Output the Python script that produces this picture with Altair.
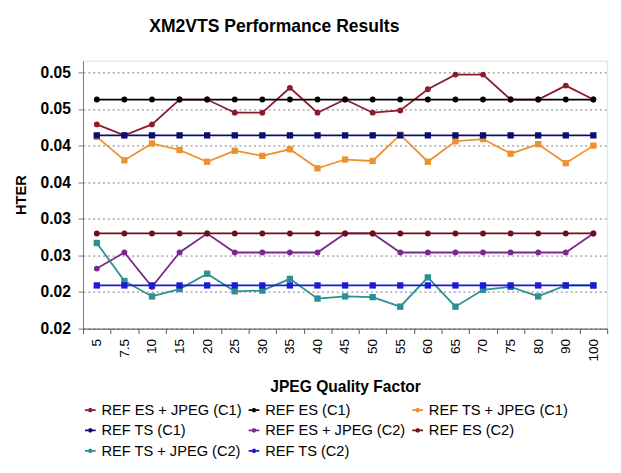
import altair as alt
import pandas as pd

quality = ["5", "7.5", "10", "15", "20", "25", "30", "35", "40", "45",
           "50", "55", "60", "65", "70", "75", "80", "90", "100"]

series_names = ["REF ES + JPEG (C1)", "REF ES (C1)", "REF TS + JPEG (C1)",
                "REF TS (C1)", "REF ES + JPEG (C2)", "REF ES (C2)",
                "REF TS + JPEG (C2)", "REF TS (C2)"]

es_jpeg_c1 = [0.0429, 0.0414, 0.0429, 0.0463, 0.0463, 0.0445, 0.0445, 0.0479, 0.0445, 0.0463,
              0.0445, 0.0448, 0.0477, 0.0497, 0.0497, 0.0463, 0.0463, 0.0482, 0.0463]
es_c1 = [0.0463, 0.0463, 0.0463, 0.0463, 0.0463, 0.0463, 0.0463, 0.0463, 0.0463, 0.0463,
         0.0463, 0.0463, 0.0463, 0.0463, 0.0463, 0.0463, 0.0463, 0.0463, 0.0463]
ts_jpeg_c1 = [0.0412, 0.0380, 0.0403, 0.0394, 0.0378, 0.0393, 0.0386, 0.0395, 0.0369, 0.0381,
              0.0379, 0.0415, 0.0378, 0.0406, 0.0409, 0.0389, 0.0402, 0.0376, 0.0400]
ts_c1 = [0.0414, 0.0414, 0.0414, 0.0414, 0.0414, 0.0414, 0.0414, 0.0414, 0.0414, 0.0414,
         0.0414, 0.0414, 0.0414, 0.0414, 0.0414, 0.0414, 0.0414, 0.0414, 0.0414]
es_jpeg_c2 = [0.0232, 0.0254, 0.0207, 0.0254, 0.0280, 0.0254, 0.0254, 0.0254, 0.0254, 0.0280,
              0.0280, 0.0254, 0.0254, 0.0254, 0.0254, 0.0254, 0.0254, 0.0254, 0.0280]
es_c2 = [0.0280, 0.0280, 0.0280, 0.0280, 0.0280, 0.0280, 0.0280, 0.0280, 0.0280, 0.0280,
         0.0280, 0.0280, 0.0280, 0.0280, 0.0280, 0.0280, 0.0280, 0.0280, 0.0280]
ts_jpeg_c2 = [0.0267, 0.0215, 0.0194, 0.0204, 0.0225, 0.0201, 0.0202, 0.0218, 0.0191, 0.0194,
              0.0193, 0.0180, 0.0220, 0.0180, 0.0203, 0.0207, 0.0194, 0.0209, 0.0209]
ts_c2 = [0.0209, 0.0209, 0.0209, 0.0209, 0.0209, 0.0209, 0.0209, 0.0209, 0.0209, 0.0209,
         0.0209, 0.0209, 0.0209, 0.0209, 0.0209, 0.0209, 0.0209, 0.0209, 0.0209]

series_values = [es_jpeg_c1, es_c1, ts_jpeg_c1, ts_c1, es_jpeg_c2, es_c2, ts_jpeg_c2, ts_c2]

colors = ["#8B1C2C", "#000000", "#EE9030", "#0C0C72",
          "#7A2A8A", "#6E0F1A", "#2A9090", "#1A1AD8"]
markers = ["circle", "circle", "square", "square", "circle", "circle", "square", "square"]

y_tick_values = [0.015, 0.02, 0.025, 0.03, 0.035, 0.04, 0.045, 0.05]
y_tick_labels = ["0.02", "0.02", "0.03", "0.03", "0.04", "0.04", "0.05", "0.05"]

rows = []
for name, vals, mk in zip(series_names, series_values, markers):
    for q, v in zip(quality, vals):
        rows.append({"quality": q, "hter": v, "series": name, "marker": mk})
df = pd.DataFrame(rows)

label_expr = ""
for v, lab in zip(y_tick_values, y_tick_labels):
    label_expr += f"abs(datum.value - {v}) < 1e-6 ? '{lab}' : "
label_expr += "''"

# legend symbol: short line with a dot marker in the middle
circ = ("M-1,0L1,0M0.26,0L0.18,0.18L0,0.26L-0.18,0.18L-0.26,0"
        "L-0.18,-0.18L0,-0.26L0.18,-0.18Z")

FONT = "Liberation Sans"

x_enc = alt.X("quality:N", sort=quality,
              scale=alt.Scale(type="band", paddingInner=0, paddingOuter=0),
              axis=alt.Axis(title="JPEG Quality Factor", labelAngle=270, tickBand="extent",
                            labelFontSize=14, labelFont=FONT, labelColor="#000",
                            titleFontSize=16, titleFont=FONT, titleFontWeight="bold",
                            titleColor="#000", titlePadding=18,
                            domainColor="#555", tickColor="#555", tickSize=5,
                            labelPadding=5, grid=False))
y_axis = alt.Axis(title="HTER", values=y_tick_values, labelExpr=label_expr,
                  labelFontSize=16, labelFont=FONT, labelFontWeight="bold",
                  labelColor="#000", titleFontSize=15, titleFont=FONT,
                  titleFontWeight="bold", titleColor="#000", titlePadding=12,
                  domainColor="#777", tickColor="#777", tickSize=5, labelPadding=8,
                  gridColor="#777", gridDash=[2, 3], gridWidth=1)
y_scale = alt.Scale(domain=[0.015, 0.0516], nice=False, zero=False)
y_enc = alt.Y("hter:Q", scale=y_scale, axis=y_axis)

color_scale = alt.Scale(domain=series_names, range=colors)
col_line = alt.Color("series:N", sort=series_names, scale=color_scale,
                     legend=alt.Legend(title=None, orient="bottom", direction="horizontal",
                                       columns=3, symbolType=circ, symbolSize=121,
                                       labelFontSize=15, labelFont=FONT, labelColor="#000",
                                       rowPadding=5, columnPadding=3, labelOffset=4,
                                       symbolStrokeWidth=1.8, offset=8))
col_none = alt.Color("series:N", sort=series_names, scale=color_scale, legend=None)

lines = alt.Chart(df).mark_line(strokeWidth=1.8).encode(x=x_enc, y=y_enc, color=col_line)
pts_circle = alt.Chart(df).transform_filter("datum.marker == 'circle'").mark_point(
    filled=True, opacity=1, size=36, shape="circle").encode(x=x_enc, y=y_enc, color=col_none)
pts_square = alt.Chart(df).transform_filter("datum.marker == 'square'").mark_point(
    filled=True, opacity=1, size=42, shape="square").encode(x=x_enc, y=y_enc, color=col_none)

chart = (lines + pts_circle + pts_square).properties(
    width=538, height=275,
    title=alt.TitleParams("XM2VTS Performance Results", fontSize=18, font=FONT,
                          fontWeight="bold", color="#000", anchor="start",
                          frame="group", dx=68, offset=25),
).configure_view(stroke="#999", strokeWidth=1).configure(background="white")

chart.save("out.html", embed_options={"renderer": "svg", "actions": False})
